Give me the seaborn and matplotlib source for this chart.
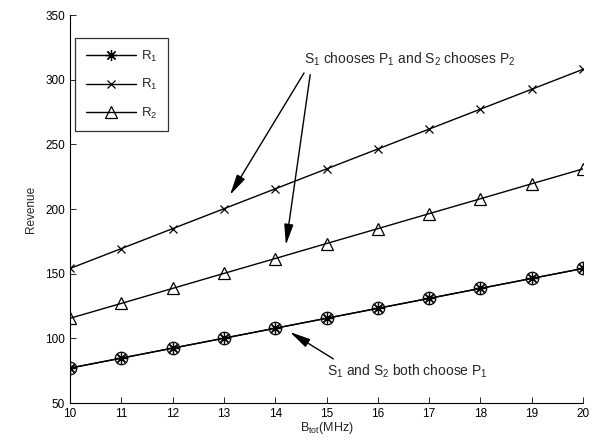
import matplotlib
matplotlib.use("Agg")
import matplotlib.pyplot as plt
import seaborn as sns
import pandas as pd

sns.set_theme(style="ticks")
plt.rcParams['font.family'] = ['Liberation Sans', 'DejaVu Sans']
plt.rcParams['mathtext.fontset'] = 'custom'
plt.rcParams['mathtext.rm'] = 'Liberation Sans'
plt.rcParams['mathtext.it'] = 'Liberation Sans'

B_tot = [10, 11, 12, 13, 14, 15, 16, 17, 18, 19, 20]
R1_both_P1 = [77, 84.7, 92.4, 100.1, 107.8, 115.5, 123.2, 130.9, 138.6, 146.3, 154]
R2_both_P1 = [77, 84.7, 92.4, 100.1, 107.8, 115.5, 123.2, 130.9, 138.6, 146.3, 154]
R1_P1P2 = [154, 169.4, 184.8, 200.2, 215.6, 231, 246.4, 261.8, 277.2, 292.6, 308]
R2_P1P2 = [115.5, 127, 138.6, 150.2, 161.7, 173.3, 184.8, 196.4, 207.9, 219.5, 231]

fig = plt.figure(figsize=(5.93, 4.45), dpi=100)
ax = fig.add_axes([70/593, 1-403/445, (583-70)/593, (403-15)/445])

kw = dict(color='black', linewidth=1.0, markerfacecolor='none', markeredgecolor='black',
          markeredgewidth=0.9, ax=ax)
sns.lineplot(x=B_tot, y=R2_both_P1, marker='o', markersize=9, legend=False, **kw)
sns.lineplot(x=B_tot, y=R1_both_P1, marker=(8, 2, 0), markersize=8, label='R$_1$', **kw)
sns.lineplot(x=B_tot, y=R1_P1P2, marker='x', markersize=6, label='R$_1$', **kw)
sns.lineplot(x=B_tot, y=R2_P1P2, marker='^', markersize=9, label='R$_2$', **kw)

ax.set_xlim(10, 20)
ax.set_ylim(50, 350)
ax.set_xticks(B_tot)
ax.set_yticks([50, 100, 150, 200, 250, 300, 350])
ax.tick_params(labelsize=8.5, direction='in', length=4, width=0.6, colors='black')
for s in ['top', 'right']:
    ax.spines[s].set_visible(False)
for s in ['left', 'bottom']:
    ax.spines[s].set_linewidth(0.8)
    ax.spines[s].set_color('black')
ax.set_xlabel('B$_{tot}$(MHz)', fontsize=9, labelpad=0)
ax.set_ylabel('Revenue', fontsize=8.5, labelpad=6)

handles, labels = ax.get_legend_handles_labels()
leg = ax.legend(handles, labels, loc='upper left', bbox_to_anchor=(0.01, 0.94), fontsize=9.5,
                frameon=True, fancybox=False, edgecolor='black', handlelength=3.8,
                borderpad=0.8, labelspacing=1.0, borderaxespad=0, handletextpad=0.4)
leg.get_frame().set_linewidth(0.9)

ap = dict(arrowstyle='-|>,head_length=0.9,head_width=0.2', color='black', lw=1.0, mutation_scale=14)
ax.annotate('', xy=(13.09, 209), xytext=(14.59, 307), arrowprops=ap)
ax.annotate('', xy=(14.2, 170), xytext=(14.69, 306), arrowprops=ap)
ax.text(14.57, 309, 'S$_1$ chooses P$_1$ and S$_2$ chooses P$_2$', fontsize=10, ha='left', va='bottom')
ax.annotate('', xy=(14.24, 106), xytext=(15.18, 83), arrowprops=ap)
ax.text(15.0, 68, 'S$_1$ and S$_2$ both choose P$_1$', fontsize=10, ha='left', va='bottom')

fig.savefig('out.png', dpi=100)
